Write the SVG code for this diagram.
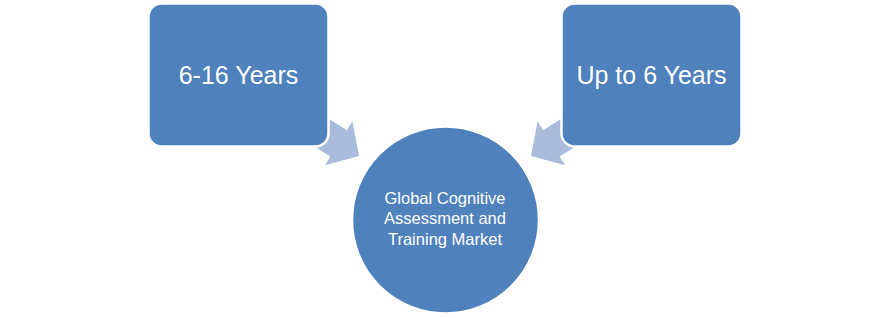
<svg xmlns="http://www.w3.org/2000/svg" width="890" height="318" viewBox="0 0 890 318">
  <defs>
    <style>
      .box { fill: #4F81BD; stroke: #FFFFFF; stroke-width: 2.5; }
      .arrow { fill: #A9BCDB; }
      .big { font-family: "Liberation Sans", Arial, sans-serif; font-size: 25px; fill: #FFFFFF; text-anchor: middle; }
      .small { font-family: "Liberation Sans", Arial, sans-serif; font-size: 16.5px; fill: #FFFFFF; text-anchor: middle; }
    </style>
    <polygon id="arr" points="0,0 -24,-26 -24,-15.5 -50,-15.5 -50,15.5 -24,15.5 -24,26"/>
  </defs>
  <rect width="890" height="318" fill="#FFFFFF"/>
  <g id="connectors">
    <use href="#arr" class="arrow" transform="translate(359,156) rotate(32)"/>
    <use href="#arr" class="arrow" transform="translate(890,0) scale(-1,1) translate(359,156) rotate(32)"/>
  </g>
  <g id="node-6-16">
    <rect class="box" x="148.5" y="3.5" width="180" height="143" rx="13"/>
    <text class="big" x="238.5" y="83.5">6-16 Years</text>
  </g>
  <g id="node-up-to-6">
    <rect class="box" x="561.5" y="3.5" width="180" height="143" rx="13"/>
    <text class="big" x="651.5" y="83.5">Up to 6 Years</text>
  </g>
  <g id="node-center">
    <circle class="box" cx="445.5" cy="220" r="93.5"/>
    <text class="small" x="445" y="203.5">Global Cognitive</text>
    <text class="small" x="445" y="224">Assessment and</text>
    <text class="small" x="445" y="244.5">Training Market</text>
  </g>
</svg>
